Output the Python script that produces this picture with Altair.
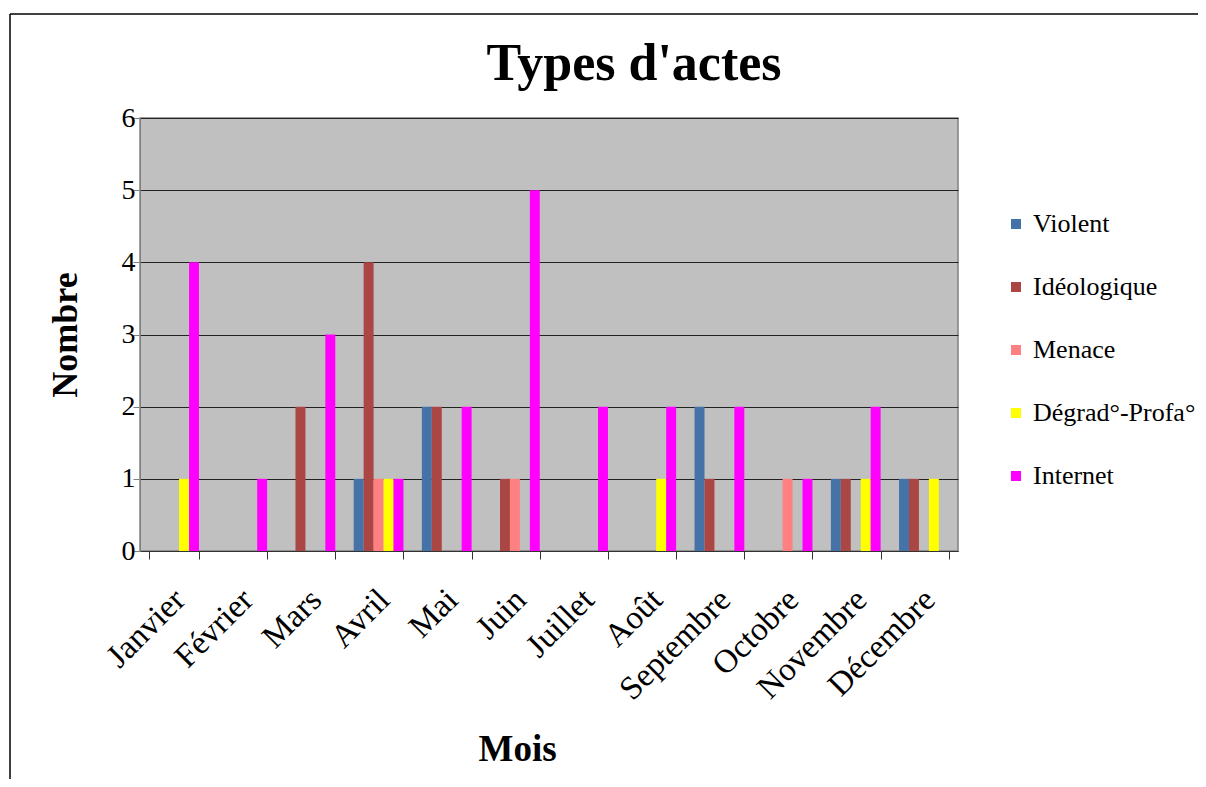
import altair as alt
import pandas as pd

months = ["Janvier", "Février", "Mars", "Avril", "Mai", "Juin", "Juillet",
          "Août", "Septembre", "Octobre", "Novembre", "Décembre"]
series = ["Violent", "Idéologique", "Menace", "Dégrad°-Profa°", "Internet"]
colors = ["#4572A7", "#AA4643", "#FF8080", "#FFFF00", "#FF00FF"]

violent = [0, 0, 0, 1, 2, 0, 0, 0, 2, 0, 1, 1]
ideologique = [0, 0, 2, 4, 2, 1, 0, 0, 1, 0, 1, 1]
menace = [0, 0, 0, 1, 0, 1, 0, 0, 0, 1, 0, 0]
degrad = [1, 0, 0, 1, 0, 0, 0, 1, 0, 0, 1, 1]
internet = [4, 1, 3, 1, 2, 5, 2, 2, 2, 1, 2, 0]

title_text = "Types d'actes"

rows = []
for s, vals in zip(series, [violent, ideologique, menace, degrad, internet]):
    for m, v in zip(months, vals):
        rows.append({"Mois": m, "Type": s, "Nombre": v})
df = pd.DataFrame(rows)

SERIF = "Liberation Serif"

bars = alt.Chart(df).mark_bar(strokeWidth=0).encode(
    x=alt.X("Mois:N", sort=months,
            scale=alt.Scale(paddingInner=0.27, paddingOuter=0.135),
            axis=alt.Axis(title="Mois", labelAngle=-45, labelFontSize=33,
                          labelFont=SERIF, labelColor="black", labelPadding=24,
                          labelOffset=-6,
                          tickBand="extent", tickSize=8, tickColor="#333",
                          domainColor="#333", titleFont=SERIF,
                          titleFontSize=37, titleFontWeight="bold",
                          titleX=377, titleY=209, titleAlign="center",
                          titleBaseline="alphabetic", titleColor="black")),
    xOffset=alt.XOffset("Type:N", sort=series,
                        scale=alt.Scale(domain=series, paddingInner=0, paddingOuter=0)),
    y=alt.Y("Nombre:Q", scale=alt.Scale(domain=[0, 6], nice=False),
            axis=alt.Axis(title="Nombre", values=[0, 1, 2, 3, 4, 5, 6],
                          format="d", labelFontSize=28, labelFont=SERIF,
                          labelColor="black", labelPadding=-2, tickSize=7,
                          tickColor="#808080", domainColor="#808080",
                          gridColor="#222", gridWidth=1,
                          titleFont=SERIF, titleFontSize=36,
                          titleFontWeight="bold", titleColor="black",
                          titleX=-75, titleY=216.5, titleAngle=-90,
                          titleAlign="center", titleBaseline="middle")),
    color=alt.Color("Type:N", sort=series,
                    scale=alt.Scale(domain=series, range=colors),
                    legend=alt.Legend(title=None, orient="none", legendX=863,
                                      legendY=93, symbolType="square",
                                      symbolSize=100, symbolStrokeWidth=0,
                                      labelFont=SERIF, labelFontSize=26,
                                      labelColor="black", rowPadding=37,
                                      labelOffset=4, labelLimit=300)),
)

one = pd.DataFrame({"k": [0]})
title_mark = alt.Chart(one).mark_text(
    text=title_text, font=SERIF, fontSize=52, fontWeight="bold",
    color="black", align="center", baseline="alphabetic").encode(
    x=alt.value(494), y=alt.value(-38))
frame_top = alt.Chart(one).mark_rule(color="black", strokeWidth=1.5).encode(
    x=alt.value(-130), x2=alt.value(1080), y=alt.value(-104))
frame_left = alt.Chart(one).mark_rule(color="black", strokeWidth=1.5).encode(
    x=alt.value(-130), y=alt.value(-104), y2=alt.value(680))

chart = alt.layer(bars, title_mark, frame_top, frame_left).properties(
    width=818, height=433,
    autosize=alt.AutoSizeParams(type="none"),
    padding={"left": 132, "top": 110, "right": 240, "bottom": 228},
).configure(background="white"
).configure_view(fill="#C0C0C0", stroke="#808080", strokeWidth=1.5)

chart.save("out.html", embed_options={"renderer": "svg", "actions": False})
